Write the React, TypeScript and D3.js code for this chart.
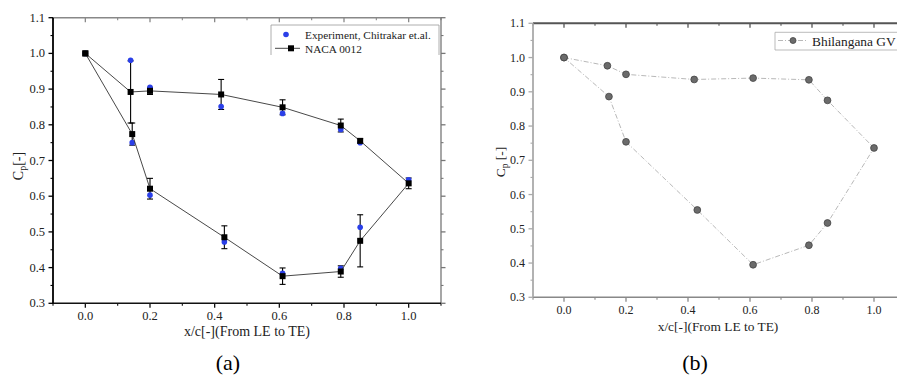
import React from "react";
import * as d3 from "d3";

// ---- Panel (a): NACA 0012 (simulation, ordered around the profile) ----
const nacaX = [0, 0.14, 0.2, 0.42, 0.61, 0.79, 0.85, 1.0, 0.85, 0.79, 0.61, 0.43, 0.2, 0.145, 0];
const nacaCp = [1.0, 0.892, 0.895, 0.885, 0.849, 0.798, 0.755, 0.636, 0.475, 0.389, 0.376, 0.485, 0.621, 0.774, 1.0];
const nacaErr = [0, 0.087, 0.01, 0.042, 0.021, 0.018, 0.006, 0.015, 0.073, 0.016, 0.023, 0.032, 0.029, 0.031, 0];

// ---- Panel (a): Experiment, Chitrakar et.al. ----
const expX = [0, 0.14, 0.145, 0.2, 0.2, 0.42, 0.43, 0.61, 0.61, 0.79, 0.79, 0.85, 0.85, 1.0];
const expCp = [1.0, 0.981, 0.75, 0.905, 0.603, 0.851, 0.472, 0.832, 0.384, 0.787, 0.398, 0.75, 0.513, 0.646];

// ---- Panel (b): Bhilangana GV ----
const bgvX = [0, 0.14, 0.2, 0.42, 0.61, 0.79, 0.85, 1.0, 0.85, 0.79, 0.61, 0.43, 0.2, 0.145, 0];
const bgvCp = [1.0, 0.976, 0.951, 0.936, 0.94, 0.935, 0.875, 0.736, 0.517, 0.452, 0.395, 0.555, 0.754, 0.886, 1.0];

// ---- Axis ticks ----
const xMajor = [0, 0.2, 0.4, 0.6, 0.8, 1.0];
const xMinor = [-0.1, 0.1, 0.3, 0.5, 0.7, 0.9, 1.1];
const yMajor = [0.3, 0.4, 0.5, 0.6, 0.7, 0.8, 0.9, 1.0, 1.1];
const yMinor = [0.35, 0.45, 0.55, 0.65, 0.75, 0.85, 0.95, 1.05];

const FONT = "Liberation Serif, Tinos, Times New Roman, Times, DejaVu Serif, serif";

type AxisStyle = { left: string; bottom: string; top: string; right: string; leftW: number; bottomW: number; topW: number; rightW: number };

function Frame({ x, y, st, tickFs, rightAxis }: { x: d3.ScaleLinear<number, number>; y: d3.ScaleLinear<number, number>; st: AxisStyle; tickFs: number; rightAxis: boolean }) {
  const [x0, x1] = x.range();
  const [y0, y1] = y.range(); // y0 bottom, y1 top
  const xEnd = Math.min(x1, 897);
  const fmt = d3.format(".1f");
  return (
    <g>
      {xMajor.map((v) => (
        <line key={"bM" + v} x1={x(v)} x2={x(v)} y1={y0} y2={y0 + 4.5} stroke={st.bottom} strokeWidth={1.3} />
      ))}
      {xMinor.map((v) => (
        <line key={"bm" + v} x1={x(v)} x2={x(v)} y1={y0} y2={y0 + 2.5} stroke={st.bottom} strokeWidth={1.1} />
      ))}
      {xMajor.map((v) => (
        <line key={"tM" + v} x1={x(v)} x2={x(v)} y1={y1} y2={y1 + 4.5} stroke={st.top} strokeWidth={1.3} />
      ))}
      {xMinor.filter((v) => x(v) < 897).map((v) => (
        <line key={"tm" + v} x1={x(v)} x2={x(v)} y1={y1} y2={y1 + 2.5} stroke={st.top} strokeWidth={1.1} />
      ))}
      {yMajor.map((v) => (
        <line key={"lM" + v} x1={x0 - 4.5} x2={x0} y1={y(v)} y2={y(v)} stroke={st.left} strokeWidth={1.3} />
      ))}
      {yMinor.map((v) => (
        <line key={"lm" + v} x1={x0 - 2.5} x2={x0} y1={y(v)} y2={y(v)} stroke={st.left} strokeWidth={1.1} />
      ))}
      {rightAxis &&
        yMajor.map((v) => (
          <line key={"rM" + v} x1={x1} x2={x1 + 4.5} y1={y(v)} y2={y(v)} stroke={st.right} strokeWidth={1.3} />
        ))}
      {rightAxis &&
        yMinor.map((v) => (
          <line key={"rm" + v} x1={x1} x2={x1 + 2.5} y1={y(v)} y2={y(v)} stroke={st.right} strokeWidth={1.1} />
        ))}
      <line x1={x0} x2={xEnd} y1={y1} y2={y1} stroke={st.top} strokeWidth={st.topW} />
      {rightAxis && <line x1={x1} x2={x1} y1={y1} y2={y0} stroke={st.right} strokeWidth={st.rightW} />}
      <line x1={x0} x2={xEnd} y1={y0} y2={y0} stroke={st.bottom} strokeWidth={st.bottomW} />
      <line x1={x0} x2={x0} y1={y1} y2={y0} stroke={st.left} strokeWidth={st.leftW} />
      {xMajor.map((v) => (
        <text key={"xl" + v} x={x(v)} y={y0 + 17} textAnchor="middle" fontSize={tickFs} style={{ fontFamily: FONT }} fill="#222">
          {fmt(v)}
        </text>
      ))}
      {yMajor.map((v) => (
        <text key={"yl" + v} x={x0 - 8} y={y(v) + 4} textAnchor="end" fontSize={tickFs} style={{ fontFamily: FONT }} fill="#222">
          {fmt(v)}
        </text>
      ))}
    </g>
  );
}

function PanelA() {
  const x = d3.scaleLinear().domain([-0.1, 1.1]).range([53, 441]);
  const y = d3.scaleLinear().domain([0.3, 1.1]).range([303.3, 17.7]);
  const line = d3.line<number>().x((_, i) => x(nacaX[i])).y((d) => y(d));
  const st: AxisStyle = { left: "#000", bottom: "#111", top: "#888", right: "#777", leftW: 1.8, bottomW: 1.5, topW: 1.5, rightW: 1.3 };
  return (
    <g>
      <Frame x={x} y={y} st={st} tickFs={12.5} rightAxis={true} />
      {nacaCp.map((v, i) =>
        nacaErr[i] > 0 ? (
          <g key={"e" + i} stroke="#000" strokeWidth={1.1}>
            <line x1={x(nacaX[i])} x2={x(nacaX[i])} y1={y(v - nacaErr[i])} y2={y(v + nacaErr[i])} />
            <line x1={x(nacaX[i]) - 3} x2={x(nacaX[i]) + 3} y1={y(v - nacaErr[i])} y2={y(v - nacaErr[i])} />
            <line x1={x(nacaX[i]) - 3} x2={x(nacaX[i]) + 3} y1={y(v + nacaErr[i])} y2={y(v + nacaErr[i])} />
          </g>
        ) : null
      )}
      {expCp.map((v, i) => (
        <circle key={"d" + i} cx={x(expX[i])} cy={y(v)} r={2.8} fill="#2a3fe8" />
      ))}
      <path d={line(nacaCp) || ""} fill="none" stroke="#333" strokeWidth={0.9} />
      {nacaCp.map((v, i) => (
        <rect key={"s" + i} x={x(nacaX[i]) - 3} y={y(v) - 3} width={6} height={6} fill="#000" />
      ))}
      <g>
        <polyline points="271,55 271,25 439,25 439,55" fill="none" stroke="#999" strokeWidth={0.8} />
        <circle cx={286} cy={34.5} r={2.8} fill="#2a3fe8" />
        <text x={305} y={38.5} fontSize={11.3} style={{ fontFamily: FONT }} fill="#222">Experiment, Chitrakar et.al.</text>
        <line x1={275} x2={300} y1={48.3} y2={48.3} stroke="#333" strokeWidth={0.9} />
        <rect x={288} y={45.3} width={6} height={6} fill="#000" />
        <text x={305} y={52.5} fontSize={11.3} style={{ fontFamily: FONT }} fill="#222">NACA 0012</text>
      </g>
      <text x={247} y={336} textAnchor="middle" fontSize={14} style={{ fontFamily: FONT }} fill="#222">x/c[-](From LE to TE)</text>
      <text transform="translate(23,166) rotate(-90)" textAnchor="middle" fontSize={14} style={{ fontFamily: FONT }} fill="#222">
        C<tspan fontSize={10} dy={3}>p</tspan><tspan dy={-3}>[-]</tspan>
      </text>
      <text x={228} y={370} textAnchor="middle" fontSize={22} style={{ fontFamily: FONT }} fill="#000">(a)</text>
    </g>
  );
}

function PanelB() {
  const x = d3.scaleLinear().domain([-0.1, 1.1]).range([533, 905]);
  const y = d3.scaleLinear().domain([0.3, 1.1]).range([297.3, 23.3]);
  const line = d3.line<number>().x((_, i) => x(bgvX[i])).y((d) => y(d));
  const st: AxisStyle = { left: "#aaa", bottom: "#888", top: "#555", right: "#555", leftW: 1.8, bottomW: 1.5, topW: 2, rightW: 1.3 };
  return (
    <g>
      <Frame x={x} y={y} st={st} tickFs={12} rightAxis={false} />
      <path d={line(bgvCp) || ""} fill="none" stroke="#b0b0b0" strokeWidth={0.9} strokeDasharray="5,2,1,2" />
      {bgvCp.map((v, i) => (
        <circle key={"c" + i} cx={x(bgvX[i])} cy={y(v)} r={3.4} fill="#6b6b6b" stroke="#444" strokeWidth={0.8} />
      ))}
      <g>
        <polyline points="905,32.3 775,32.3 775,50 905,50" fill="none" stroke="#aaa" strokeWidth={0.8} />
        <line x1={778} x2={808} y1={40.5} y2={40.5} stroke="#b0b0b0" strokeWidth={0.9} strokeDasharray="5,2,1,2" />
        <circle cx={793} cy={40.5} r={3} fill="#6b6b6b" stroke="#444" strokeWidth={0.8} />
        <text x={812} y={45.5} fontSize={13.4} style={{ fontFamily: FONT }} fill="#222">Bhilangana GV</text>
      </g>
      <text x={718} y={331} textAnchor="middle" fontSize={13.4} style={{ fontFamily: FONT }} fill="#222">x/c[-](From LE to TE)</text>
      <text transform="translate(505,162) rotate(-90)" textAnchor="middle" fontSize={13.4} style={{ fontFamily: FONT }} fill="#222">
        C<tspan fontSize={9.5} dy={3}>p</tspan><tspan dy={-3}> [-]</tspan>
      </text>
      <text x={695} y={370} textAnchor="middle" fontSize={22} style={{ fontFamily: FONT }} fill="#000">(b)</text>
    </g>
  );
}

export default function App() {
  return (
    <svg width={897} height={376} style={{ position: "absolute", left: 0, top: 0, background: "#fff" }}>
      <rect x={0} y={0} width={897} height={376} fill="#fff" />
      <PanelA />
      <PanelB />
    </svg>
  );
}
